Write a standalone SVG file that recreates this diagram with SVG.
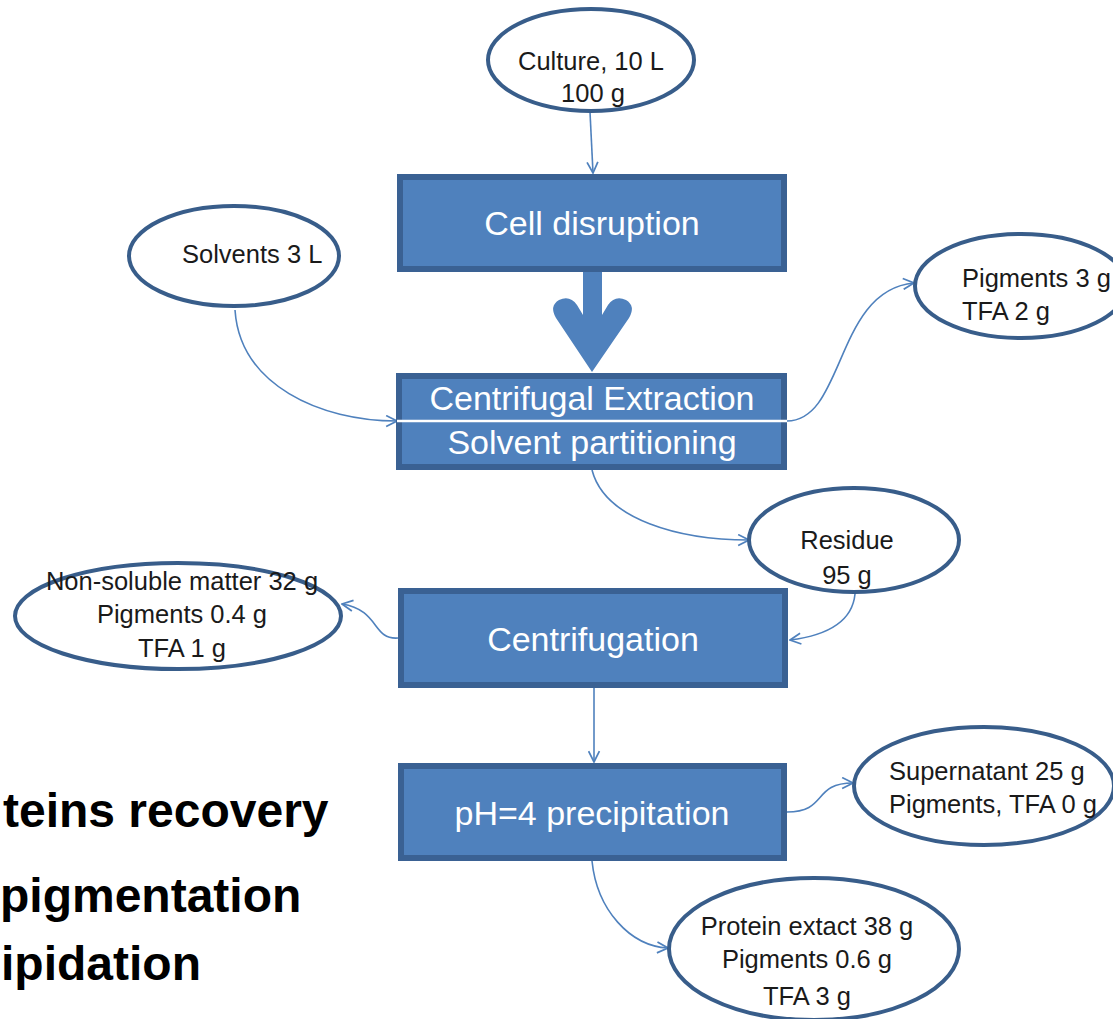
<svg xmlns="http://www.w3.org/2000/svg" width="1113" height="1019" viewBox="0 0 1113 1019">
<style>
.box{fill:#4F81BD;stroke:#3A6193;stroke-width:6}
.boxt{font-family:"Liberation Sans",Arial,sans-serif;font-size:34px;fill:#FFFFFF;text-anchor:middle}
.ell{fill:#FFFFFF;stroke:#385D8A;stroke-width:4}
.et{font-family:"Liberation Sans",Arial,sans-serif;font-size:25.5px;fill:#1A1A1A}
.mid{text-anchor:middle}
.con{fill:none;stroke:#4F81BD;stroke-width:1.6}
.side{font-family:"Liberation Sans",Arial,sans-serif;font-size:48px;font-weight:bold;fill:#000}
</style>
<defs>
<marker id="ah" viewBox="0 0 12 12" refX="11" refY="6" markerWidth="13" markerHeight="13" markerUnits="userSpaceOnUse" orient="auto">
<path d="M1,1 L11,6 L1,11" fill="none" stroke="#4F81BD" stroke-width="1.6"/>
</marker>
</defs>
<rect width="1113" height="1019" fill="#FFFFFF"/>

<g id="side-text">
<text class="side" x="3" y="827">teins recovery</text>
<text class="side" x="0" y="912">pigmentation</text>
<text class="side" x="1" y="980">ipidation</text>
</g>

<g id="connectors">
<path class="con" d="M590,112 L593,173" marker-end="url(#ah)"/>
<path class="con" d="M235,310 C240,385 320,421 397,421" marker-end="url(#ah)"/>
<path class="con" d="M787,421 C845,421 835,290 914,283" marker-end="url(#ah)"/>
<path class="con" d="M592,470 C605,520 680,540 749,540" marker-end="url(#ah)"/>
<path class="con" d="M855,594 C852,625 822,636 790,640" marker-end="url(#ah)"/>
<path class="con" d="M398,638 C372,640 380,610 342,604" marker-end="url(#ah)"/>
<path class="con" d="M594,688 L594,762" marker-end="url(#ah)"/>
<path class="con" d="M787,812 C828,812 812,783 853,783" marker-end="url(#ah)"/>
<path class="con" d="M592,861 C597,910 630,946 668,948" marker-end="url(#ah)"/>
<path id="thick-arrow" d="M592,372 L556,318 Q549,306 559,300 Q570,295 577,305 L583,315 L583,272 L602,272 L602,315 L608,305 Q615,295 626,300 Q636,306 629,318 Z" fill="#4F81BD"/>
</g>

<g id="culture">
<ellipse class="ell" cx="591" cy="60" rx="103" ry="51"/>
<text class="et mid" x="591" y="70">Culture, 10 L</text>
<text class="et mid" x="593" y="102">100 g</text>
</g>

<g id="cell-disruption">
<rect class="box" x="400" y="177" width="384" height="92"/>
<text class="boxt" x="592" y="235">Cell disruption</text>
</g>

<g id="solvents">
<ellipse class="ell" cx="234" cy="256" rx="105" ry="50"/>
<text class="et" x="182" y="263">Solvents 3 L</text>
</g>

<g id="centrifugal-extraction">
<rect class="box" x="399" y="376" width="385" height="91"/>
<line x1="397" y1="421" x2="787" y2="421" stroke="#FFFFFF" stroke-width="2.5"/>
<text class="boxt" x="592" y="410">Centrifugal Extraction</text>
<text class="boxt" x="592" y="454">Solvent partitioning</text>
</g>

<g id="pigments-out">
<ellipse class="ell" cx="1021" cy="286" rx="106" ry="52"/>
<text class="et" x="962" y="287">Pigments 3 g</text>
<text class="et" x="962" y="320">TFA 2 g</text>
</g>

<g id="residue">
<ellipse class="ell" cx="854" cy="540" rx="105" ry="52"/>
<text class="et mid" x="847" y="549">Residue</text>
<text class="et mid" x="847" y="584">95 g</text>
</g>

<g id="non-soluble">
<ellipse class="ell" cx="178" cy="616" rx="163" ry="53"/>
<text class="et mid" x="182" y="590">Non-soluble matter 32 g</text>
<text class="et mid" x="182" y="623">Pigments 0.4 g</text>
<text class="et mid" x="182" y="657">TFA 1 g</text>
</g>

<g id="centrifugation">
<rect class="box" x="401" y="591" width="384" height="94"/>
<text class="boxt" x="593" y="651">Centrifugation</text>
</g>

<g id="precipitation">
<rect class="box" x="401" y="766" width="383" height="92"/>
<text class="boxt" x="592" y="825">pH=4 precipitation</text>
</g>

<g id="supernatant">
<ellipse class="ell" cx="984" cy="786" rx="130" ry="59"/>
<text class="et" x="889" y="780">Supernatant 25 g</text>
<text class="et" x="889" y="813">Pigments, TFA 0 g</text>
</g>

<g id="protein-extract">
<ellipse class="ell" cx="814" cy="949" rx="145" ry="71"/>
<text class="et mid" x="807" y="935">Protein extact 38 g</text>
<text class="et mid" x="807" y="968">Pigments 0.6 g</text>
<text class="et mid" x="807" y="1005">TFA 3 g</text>
</g>
</svg>
